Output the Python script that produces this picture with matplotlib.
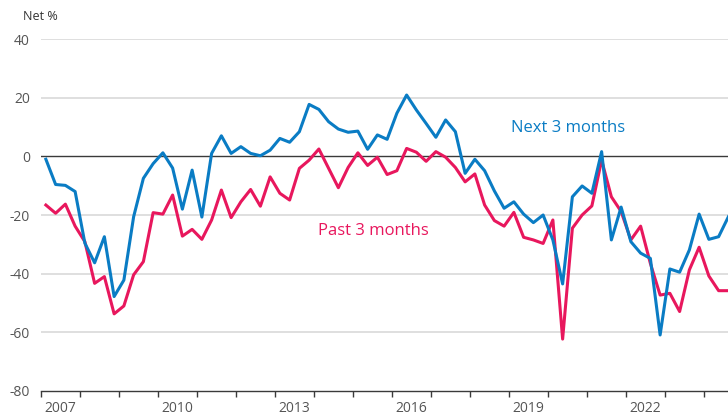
import matplotlib
matplotlib.use('Agg')
import matplotlib.pyplot as plt
import matplotlib.ticker as ticker
import numpy as np

plt.rcParams['font.family'] = ['Open Sans', 'DejaVu Sans']

# quarterly, 2007 Q1 .. 2024 Q3
start_year = 2007
next_3m = [
    -1, -9.6, -9.9, -12, -29.6, -36.3, -27.4, -47.8, -42.2, -20.6,
    -7.5, -2.5, 1.2, -4, -18, -4.7, -20.7, 1, 7, 1,
    3.3, 1, 0.2, 2.1, 6.1, 4.8, 8.4, 17.7, 16, 11.8,
    9.3, 8.2, 8.6, 2.4, 7.3, 5.8, 14.7, 20.9, 15.8, 11.2,
    6.5, 12.4, 8.4, -5.8, -1, -4.9, -11.8, -17.7, -15.5, -19.7,
    -22.6, -20, -28.5, -43.5, -13.8, -10.1, -12.6, 1.6, -28.5, -17.3,
    -29.1, -33, -34.8, -60.9, -38.4, -39.5, -31.9, -19.7, -28.3, -27.4,
    -20.6,
]
past_3m = [
    -16.6, -19.4, -16.3, -23.8, -29.1, -43.3, -41, -53.7, -51, -40.4,
    -35.9, -19.2, -19.7, -13.2, -27.2, -24.9, -28.3, -21.7, -11.5, -20.9,
    -15.5, -11.3, -17, -7, -12.6, -14.9, -4.1, -1.3, 2.5, -4.1,
    -10.7, -3.8, 1.2, -3.1, -0.3, -6.2, -4.9, 2.7, 1.4, -1.7,
    1.6, -0.3, -3.8, -8.7, -6, -16.6, -21.9, -23.8, -19.1, -27.6,
    -28.5, -29.7, -21.7, -62.3, -24.5, -20, -16.9, -1.3, -13.8, -18.8,
    -28.5, -23.8, -36.5, -47.3, -46.7, -52.9, -38.7, -31, -40.8, -45.8,
    -45.8,
]
year_labels = [2007, 2010, 2013, 2016, 2019, 2022]
y_ticks = [-80, -60, -40, -20, 0, 20, 40]

BLUE = '#0a7cc4'
PINK = '#e8175d'

t = start_year + (np.arange(len(next_3m)) + 0.5) / 4

fig = plt.figure(figsize=(7.28, 4.19), dpi=100)
ax = fig.add_axes((41 / 728, 1 - 391 / 419, 1 - 41 / 728, (391 - 39) / 419))

# gridlines (zero line darker)
for y in y_ticks[1:]:
    if y == 0:
        continue
    ax.axhline(y, color='#dcdcdc', linewidth=1.3, zorder=1)
ax.axhline(0, color='#3a3a3a', linewidth=1.0, zorder=2)

ax.plot(t, past_3m, color=PINK, linewidth=2.2, zorder=3)
ax.plot(t, next_3m, color=BLUE, linewidth=2.2, zorder=4)

ax.set_xlim(2007, 2007 + 687 / 39)
ax.set_ylim(-80, 40)

for side in ('top', 'right', 'left'):
    ax.spines[side].set_visible(False)
ax.spines['bottom'].set_color('#3a3a3a')
ax.spines['bottom'].set_linewidth(1.0)

# ticks at year boundaries, labels centred in the year
ax.xaxis.set_major_locator(ticker.FixedLocator(np.arange(2007, 2025)))
ax.xaxis.set_major_formatter(ticker.NullFormatter())
ax.xaxis.set_minor_locator(ticker.FixedLocator([y + 0.5 for y in year_labels]))
ax.xaxis.set_minor_formatter(ticker.FixedFormatter([str(y) for y in year_labels]))
ax.tick_params(axis='x', which='major', length=4, width=1.0, color='#3a3a3a', direction='out')
ax.tick_params(axis='x', which='minor', length=0, pad=7, labelsize=10, labelcolor='#555555')

ax.set_yticks(y_ticks)
ax.set_yticklabels([str(v) for v in y_ticks])
ax.tick_params(axis='y', length=0, pad=8, labelsize=10, labelcolor='#555555')

fig.text(23 / 728, 1 - 17 / 419, 'Net %', fontsize=9, color='#333333', va='center', ha='left')
fig.text(568 / 728, 1 - 128 / 419, 'Next 3 months', ha='center', va='center',
         fontsize=12, color=BLUE)
fig.text(373 / 728, 1 - 231 / 419, 'Past 3 months', ha='center', va='center',
         fontsize=12, color=PINK)

fig.savefig('out.png', dpi=100)
